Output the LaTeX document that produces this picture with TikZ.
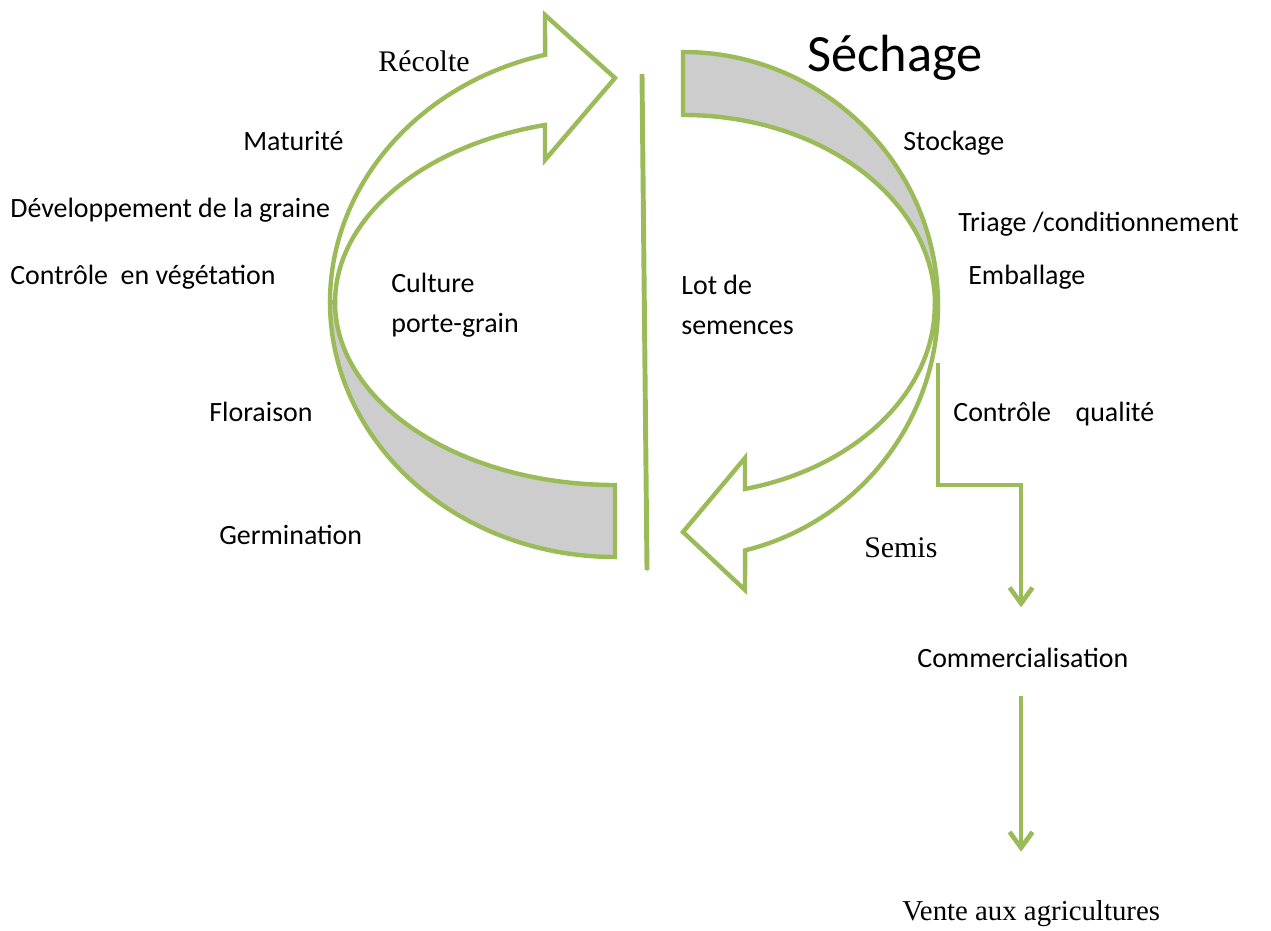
\documentclass[tikz,border=0pt]{standalone}
\usepackage{fontspec}
\setmainfont{Carlito}
\newfontfamily\timesfont{Liberation Serif}
\usepackage{xcolor}
\usetikzlibrary{arrows.meta}
\definecolor{leaf}{HTML}{9BBB59}
\definecolor{band}{HTML}{CDCDCD}

\begin{document}
\begin{tikzpicture}[x=0.02cm,y=0.02cm,font=\fontsize{15.9}{19}\selectfont]
% Styles: labels, shapes and flow lines
\tikzstyle{label node}=[anchor=base west,inner sep=0];
\tikzstyle{serif node}=[label node,font=\timesfont\fontsize{17}{20}\selectfont];
\tikzstyle{shape line}=[draw=leaf,line width=2.5pt,line join=miter];
\tikzstyle{flow line}=[leaf,line width=2.6pt,-{Straight Barb[length=9pt,width=13pt]},preaction={draw=gray!70,transform canvas={shift={(0.7pt,-0.9pt)}}}];
\useasboundingbox (0,0) rectangle (1271,930);
% Labels
\foreach \n/\x/\y/\t in {mat/243/779/Maturité,dev/10/712/Développement de la graine,
cveg/10/645/Contrôle~ en végétation,flo/209/508/Floraison,germ/219/385/Germination,
cult/391/637/Culture,porte/391/597/porte-grain,lot/681/635/Lot de,sem/681/595/semences,
sto/903/779/Stockage,tri/958/698/{Triage /conditionnement},emb/968/645/Emballage,
cqual/953/508/{Contrôle\hspace{14pt}qualité},comm/917/262/Commercialisation}
\node(\n)[label node]at(\x,\y){\t};
\node(sech)[label node,font=\fontsize{29.8}{34}\selectfont]at(807,858){Séchage};
\node(rec)[serif node]at(378,858){Récolte};
\node(semis)[serif node]at(864,372){Semis};
\node(vente)[serif node,font=\timesfont\fontsize{16.4}{19}\selectfont]at(902,10){Vente aux agricultures};
% Left cycle arrow
\draw[shape line,fill=band](330,628)arc[start angle=180,end angle=270,x radius=285,y radius=255]
--(615,445)arc[start angle=270,end angle=180,x radius=280,y radius=183]--cycle;
\draw[shape line,fill=white](330,628)arc[start angle=180,end angle=104.2,x radius=285,y radius=255]
--(545,915)--(615,852)--(545,770)--(545,805)arc[start angle=104.5,end angle=180,x radius=280,y radius=183]--cycle;
% Right cycle arrow
\draw[shape line,fill=band](683,878)arc[start angle=90,end angle=0,x radius=255,y radius=253]
--(935,625)arc[start angle=0,end angle=90,x radius=252,y radius=190]--cycle;
\draw[shape line,fill=white](938,625)arc[start angle=0,end angle=-75.9,x radius=255,y radius=253]
--(745,340)--(683,398)--(745,472)--(745,441)arc[start angle=-75.7,end angle=0,x radius=252,y radius=190]--cycle;
% Divider
\coordinate(d1)at(642,856);
\coordinate(d2)at(647,360);
\draw[leaf,line width=2.8pt,preaction={draw=gray!70,transform canvas={shift={(0.4pt,-0.9pt)}}}](d1)--(d2);
% Flow to market
\coordinate(q1)at(938,567);
\coordinate(q2)at(1021,445);
\draw[flow line,shorten >=0.82cm](q1)|-(q2)--(q2|-comm.north);
\draw[flow line,shorten <=0.54cm,shorten >=0.96cm](q2|-comm.south)--(q2|-vente.north);
\end{tikzpicture}
\end{document}
